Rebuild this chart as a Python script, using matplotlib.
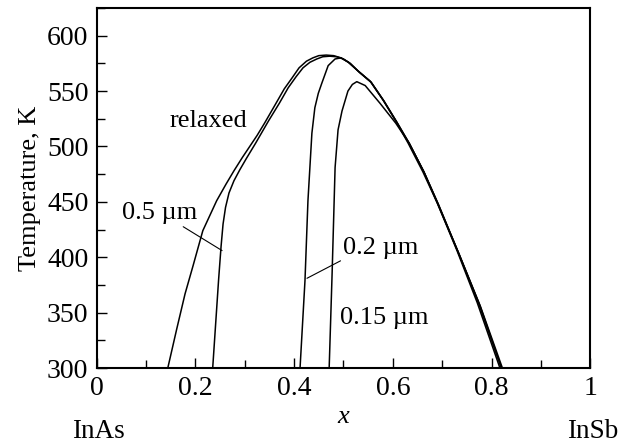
import matplotlib
matplotlib.use("Agg")
import matplotlib.pyplot as plt
from matplotlib.ticker import MultipleLocator, FormatStrFormatter

# Curves (composition x, temperature K)
relaxed_x = [0.144, 0.162, 0.179, 0.195, 0.215, 0.243, 0.262, 0.278, 0.295, 0.310, 0.325,
             0.340, 0.362, 0.380, 0.396, 0.410, 0.425, 0.438, 0.450, 0.465, 0.480, 0.495,
             0.510, 0.530, 0.554, 0.580, 0.606, 0.631, 0.661, 0.690, 0.730, 0.771, 0.817]
relaxed_t = [300, 335, 367, 392, 424, 451, 466, 478, 490, 500, 510, 521, 538, 552, 562,
             571, 577, 580, 582, 582.5, 582, 580, 576, 568, 559, 542, 523, 503, 477, 449,
             406, 359, 300]

um05_x = [0.235, 0.241, 0.247, 0.252, 0.256, 0.261, 0.268, 0.278, 0.290, 0.303, 0.322,
          0.335, 0.348, 0.370, 0.388, 0.404, 0.418, 0.432, 0.446, 0.458, 0.472, 0.486,
          0.500, 0.514, 0.532, 0.556, 0.582, 0.608, 0.633, 0.663, 0.692, 0.733, 0.775,
          0.820]
um05_t = [300, 340, 380, 410, 430, 445, 458, 469, 479, 489, 503, 513, 523, 539, 553,
          563, 571, 576, 579, 581, 581.5, 581, 579, 575, 567, 558, 541, 522, 503, 477,
          448, 404, 357, 300]

um02_x = [0.412, 0.422, 0.428, 0.436, 0.442, 0.449, 0.456, 0.469, 0.483, 0.495, 0.510,
          0.530, 0.556, 0.582, 0.608, 0.633, 0.663, 0.692, 0.735, 0.778, 0.822]
um02_t = [300, 379, 451, 512, 535, 548, 557, 573, 579, 580, 576, 568, 558, 541, 522,
          503, 477, 447, 402, 355, 300]

um015_x = [0.471, 0.477, 0.483, 0.489, 0.497, 0.509, 0.518, 0.527, 0.544, 0.574, 0.606,
           0.633, 0.663, 0.692, 0.733, 0.776, 0.820]
um015_t = [300, 386, 481, 515, 532, 550, 556, 558.5, 555, 539, 521, 503, 477, 448, 404,
           357, 300]

x_ticks = [0, 0.2, 0.4, 0.6, 0.8, 1]
y_ticks = [300, 350, 400, 450, 500, 550, 600]

plt.rcParams["font.family"] = ["Liberation Serif", "DejaVu Serif"]

fig = plt.figure(figsize=(6.2, 4.45), dpi=100)
ax = fig.add_axes([0.156, 0.173, 0.796, 0.809])

for xs, ts in [(relaxed_x, relaxed_t), (um05_x, um05_t), (um02_x, um02_t), (um015_x, um015_t)]:
    ax.plot(xs, ts, color="black", linewidth=1.1, solid_joinstyle="round")

ax.set_xlim(0, 1)
ax.set_ylim(300, 625)
ax.set_xticks(x_ticks)
ax.set_yticks(y_ticks)
ax.xaxis.set_major_formatter(FormatStrFormatter("%g"))
ax.xaxis.set_minor_locator(MultipleLocator(0.1))
ax.yaxis.set_minor_locator(MultipleLocator(25))
ax.tick_params(which="both", direction="in", top=False, right=False,
               labelsize=20, width=1.0, pad=6)
ax.tick_params(which="major", length=7)
ax.tick_params(which="minor", length=6)
for sp in ax.spines.values():
    sp.set_linewidth(1.5)

ax.set_ylabel("Temperature, K", fontsize=19, labelpad=4)
ax.set_xlabel("x", fontsize=19, style="italic", labelpad=3)

# curve labels
ax.text(0.226, 523, "relaxed", fontsize=19, ha="center", va="center")
ax.annotate("0.5 µm", xy=(0.254, 406), xytext=(0.128, 440), fontsize=19,
            ha="center", va="center",
            arrowprops=dict(arrowstyle="-", color="black", lw=0.8,
                            shrinkA=0, shrinkB=0, relpos=(0.75, 0.0)))
ax.annotate("0.2 µm", xy=(0.426, 381), xytext=(0.576, 408), fontsize=19,
            ha="center", va="center",
            arrowprops=dict(arrowstyle="-", color="black", lw=0.8,
                            shrinkA=0, shrinkB=0, relpos=(0.0, 0.0)))
ax.text(0.582, 345, "0.15 µm", fontsize=19, ha="center", va="center")

fig.text(98 / 620, 1 - 431 / 445, "InAs", fontsize=19.5, ha="center", va="center")
fig.text(593 / 620, 1 - 431 / 445, "InSb", fontsize=19.5, ha="center", va="center")

fig.savefig("out.png", dpi=100)
